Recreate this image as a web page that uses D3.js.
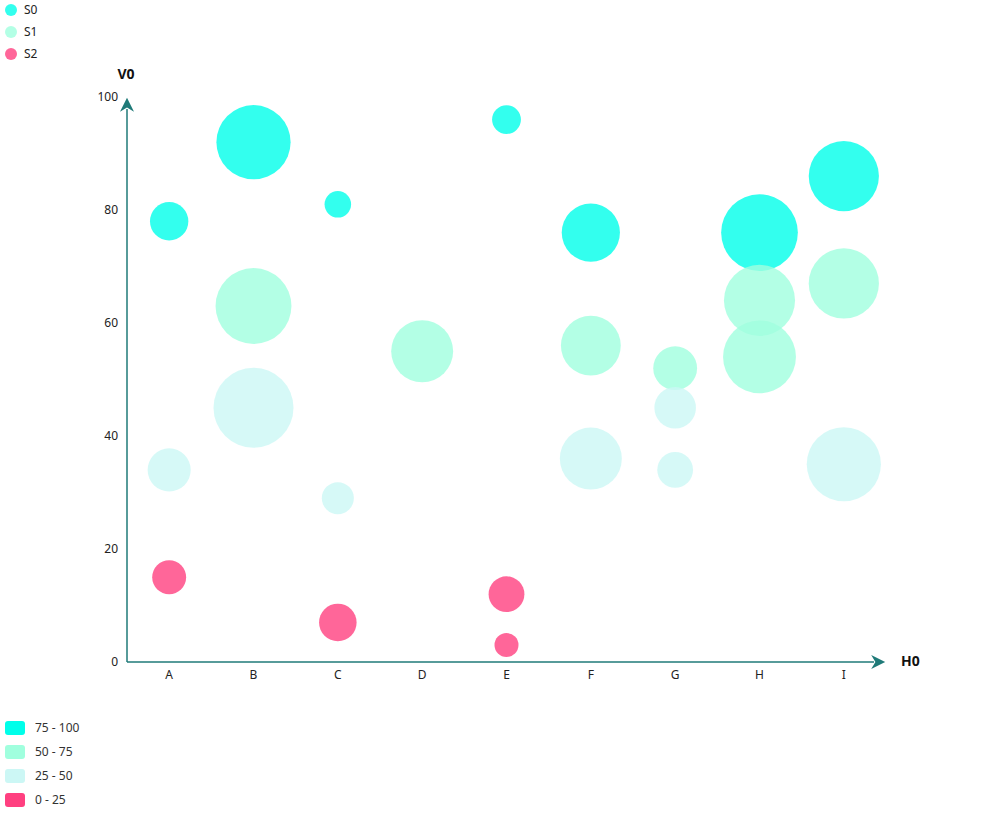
<!DOCTYPE html>
<html><head><meta charset="utf-8">
<script src="https://cdn.jsdelivr.net/npm/d3@7"></script>
<style>body{margin:0;background:#fff;font-family:"Noto Sans","Open Sans",sans-serif;}</style>
</head><body><svg id="c" width="990" height="813"></svg>
<script>
const categories = ["A","B","C","D","E","F","G","H","I"];
const seriesNames = ["S0","S1","S2"];
const s0Values = [78, 92, 81, 55, 96, 76, 52, 76, 86];
const s0Sizes  = [23, 86, 11, 60, 13, 53, 30, 92, 77];
const s1Values = [34, 63, 29, null, 12, 56, 45, 64, 67];
const s1Sizes  = [29, 90, 16, null, 20, 56, 27, 79, 77];
const s2Values = [15, 45, 7, null, 3, 36, 34, 54, 35];
const s2Sizes  = [18, 100, 22, null, 9, 60, 20, 83, 86];
const yTicks = [0, 20, 40, 60, 80, 100];
const rangeLabels = ["75 - 100", "50 - 75", "25 - 50", "0 - 25"];
const rangeColors = ["#00ffea", "#a0ffde", "#ccf7f5", "#ff4080"];
const seriesColors = ["#00ffea", "#a0ffde", "#ff4080"];

const svg = d3.select("#c");
const axisColor = "#1f7a78";
const x0 = 127, x1 = 886, yTop = 97, yBot = 662;
const x = d3.scaleBand().domain(categories).range([x0, x1]);
const y = d3.scaleLinear().domain([0, 100]).range([yBot, yTop]);
const r = d3.scaleSqrt().domain([0, 100]).range([0, 40]);
const colorOf = v => v >= 75 ? rangeColors[0] : v >= 50 ? rangeColors[1] : v >= 25 ? rangeColors[2] : rangeColors[3];

// bubbles
const pts = [];
[[s0Values, s0Sizes],[s1Values, s1Sizes],[s2Values, s2Sizes]].forEach((pair, si) => {
  categories.forEach((c, i) => {
    if (pair[0][i] != null) pts.push({c, v: pair[0][i], s: pair[1][i], si});
  });
});
svg.append("g").selectAll("circle").data(pts).join("circle")
  .attr("cx", d => x(d.c) + x.bandwidth()/2)
  .attr("cy", d => y(d.v))
  .attr("r", d => r(d.s))
  .attr("fill", d => colorOf(d.v))
  .attr("fill-opacity", 0.8);

// axes
const defs = svg.append("defs");
defs.append("marker").attr("id","arr").attr("viewBox","0 0 10 10").attr("refX",2).attr("refY",5)
  .attr("markerWidth",15).attr("markerHeight",14).attr("markerUnits","userSpaceOnUse").attr("orient","auto")
  .append("path").attr("d","M0,0 L10,5 L0,10 L3,5 Z").attr("fill", axisColor);

svg.append("line").attr("x1", x0).attr("y1", yBot).attr("x2", x1-12).attr("y2", yBot)
  .attr("stroke", axisColor).attr("stroke-width", 1.5).attr("marker-end","url(#arr)");
svg.append("line").attr("x1", x0).attr("y1", yBot).attr("x2", x0).attr("y2", yTop+12)
  .attr("stroke", axisColor).attr("stroke-width", 1.5).attr("marker-end","url(#arr)");

const yAxis = d3.axisLeft(y).tickValues(yTicks).tickSize(0).tickPadding(9);
const gy = svg.append("g").attr("transform", `translate(${x0},0)`).call(yAxis);
gy.select(".domain").remove();
gy.selectAll("text").attr("font-size", 12).attr("fill", "#222").attr("font-family", "Noto Sans, sans-serif");

const xAxis = d3.axisBottom(x).tickSize(0).tickPadding(8);
const gx = svg.append("g").attr("transform", `translate(0,${yBot})`).call(xAxis);
gx.select(".domain").remove();
gx.selectAll("text").attr("font-size", 12).attr("fill", "#222").attr("font-family", "Noto Sans, sans-serif");

svg.append("text").attr("x", 126).attr("y", 79).attr("text-anchor","middle")
  .attr("font-size", 14).attr("font-weight","bold").attr("fill","#111").text("V0");
svg.append("text").attr("x", 901).attr("y", 666)
  .attr("font-size", 14).attr("font-weight","bold").attr("fill","#111").text("H0");

// series legend
const lg = svg.append("g");
seriesNames.forEach((n, i) => {
  const cy = 10 + i*22;
  lg.append("circle").attr("cx", 11).attr("cy", cy).attr("r", 6).attr("fill", seriesColors[i]).attr("fill-opacity", 0.8);
  lg.append("text").attr("x", 24).attr("y", cy + 4).attr("font-size", 12).attr("fill","#222").text(n);
});

// range legend
const rg = svg.append("g");
rangeLabels.forEach((t, i) => {
  const cy = 728 + i*24;
  rg.append("rect").attr("x", 5).attr("y", cy-7).attr("width", 20).attr("height", 14).attr("rx", 3)
    .attr("fill", rangeColors[i]);
  rg.append("text").attr("x", 35).attr("y", cy + 4).attr("font-size", 12).attr("fill","#333").text(t);
});
</script></body></html>
